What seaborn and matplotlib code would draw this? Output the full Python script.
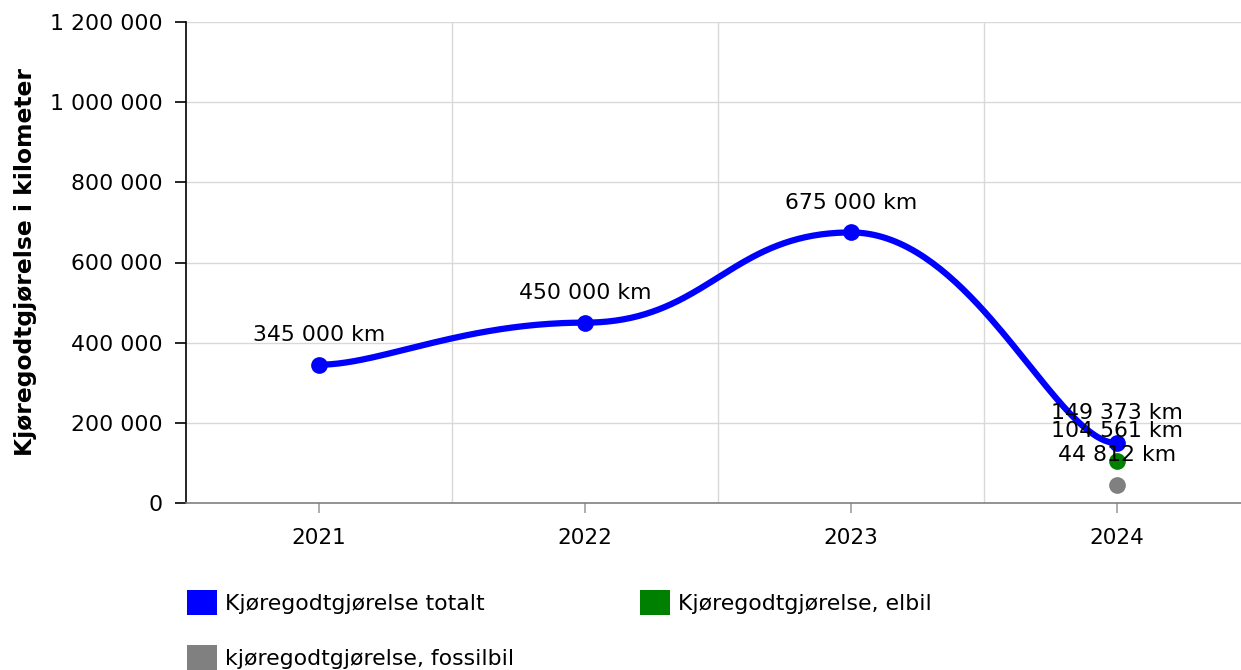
import numpy as np
import pandas as pd
import matplotlib
matplotlib.use("Agg")
import matplotlib.pyplot as plt
import seaborn as sns
from matplotlib.patches import Patch
from matplotlib.ticker import FuncFormatter, FixedLocator

# ---------------- data ----------------
years = ["2021", "2022", "2023", "2024"]
total_km = [345000, 450000, 675000, 149373]
elbil_years = ["2024"]
elbil_km = [104561]
fossil_years = ["2024"]
fossil_km = [44812]
series_names = ["Kjøregodtgjørelse totalt", "Kjøregodtgjørelse, elbil",
                "kjøregodtgjørelse, fossilbil"]
y_ticks = [0, 200000, 400000, 600000, 800000, 1000000, 1200000]
y_label = "Kjøregodtgjørelse i kilometer"

C_TOTAL = "#0000ff"
C_EL = "#008000"
C_FOSSIL = "#808080"


def fmt_num(v):
    return f"{int(round(v)):,}".replace(",", " ")


def tension_curve(xs, ys, tension_x=0.77, tension_y=1.0, n=80):
    """Smoothed line (tension in x only) drawn as cubic Bezier segments."""
    kx = 1 - tension_x + 1e-5
    ky = 1 - tension_y + 1e-5
    pts = np.column_stack([np.asarray(xs, float), np.asarray(ys, float)])
    m = len(pts)
    t = np.linspace(0, 1, n)
    ox, oy = [], []
    for i in range(m - 1):
        p0 = pts[i - 1] if i > 0 else pts[i]
        p1 = pts[i]
        p2 = pts[i + 1]
        p3 = pts[i + 2] if i + 2 < m else pts[i + 1]
        ca = np.array([p1[0] + kx * (p2[0] - p0[0]), p1[1] + ky * (p2[1] - p0[1])])
        cb = np.array([p2[0] - kx * (p3[0] - p1[0]), p2[1] - ky * (p3[1] - p1[1])])
        b = ((1 - t) ** 3)[:, None] * p1 + (3 * (1 - t) ** 2 * t)[:, None] * ca \
            + (3 * (1 - t) * t ** 2)[:, None] * cb + (t ** 3)[:, None] * p2
        if i > 0:
            b = b[1:]
        ox.extend(b[:, 0]); oy.extend(b[:, 1])
    return np.array(ox), np.array(oy)


# ---------------- figure ----------------
sns.set_theme(style="white")
plt.rcParams["font.family"] = ["DejaVu Sans"]
plt.rcParams["text.color"] = "#000000"

W, H = 1241, 670
fig = plt.figure(figsize=(W / 100, H / 100), dpi=100)
ax_left, ax_right = 186, 1250
ax_top, ax_bottom = 22, 503
ax = fig.add_axes([ax_left / W, (H - ax_bottom) / H,
                   (ax_right - ax_left) / W, (ax_bottom - ax_top) / H])

pos = {y: i for i, y in enumerate(years)}
x_total = [pos[y] for y in years]

cx, cy = tension_curve(x_total, total_km)
curve = pd.DataFrame({"x": cx, "y": cy})
sns.lineplot(data=curve, x="x", y="y", sort=False, color=C_TOTAL,
             linewidth=4.5, ax=ax, zorder=3)

df_total = pd.DataFrame({"x": x_total, "y": total_km})
df_el = pd.DataFrame({"x": [pos[y] for y in elbil_years], "y": elbil_km})
df_fo = pd.DataFrame({"x": [pos[y] for y in fossil_years], "y": fossil_km})

sns.scatterplot(data=df_fo, x="x", y="y", color=C_FOSSIL, s=145,
                linewidth=0, ax=ax, zorder=4)
sns.scatterplot(data=df_el, x="x", y="y", color=C_EL, s=145,
                linewidth=0, ax=ax, zorder=4)
sns.scatterplot(data=df_total, x="x", y="y", color=C_TOTAL, s=145,
                linewidth=0, ax=ax, zorder=5)

# data labels
for d in (df_total, df_el, df_fo):
    for xv, yv in zip(d["x"], d["y"]):
        ax.annotate(f"{fmt_num(yv)} km", (xv, yv), xytext=(0, 21.5),
                    textcoords="offset points", ha="center", va="center",
                    fontsize=15.8, color="#000000", zorder=6)

# axes
ax.set_xlim(-0.5, len(years) - 0.5)
ax.set_ylim(y_ticks[0], y_ticks[-1])
ax.xaxis.set_major_locator(FixedLocator(list(range(len(years)))))
ax.set_xticklabels(years)
ax.xaxis.set_minor_locator(FixedLocator([i + 0.5 for i in range(len(years) - 1)]))
ax.yaxis.set_major_locator(FixedLocator(y_ticks))
ax.yaxis.set_major_formatter(FuncFormatter(lambda v, p: fmt_num(v)))

ax.grid(False)
for yv in y_ticks[1:]:
    ax.axhline(yv, color="#d9d9d9", linewidth=1.0, zorder=0)
ax.grid(which="minor", axis="x", color="#d9d9d9", linewidth=1.0, zorder=0)

for s in ("top", "right"):
    ax.spines[s].set_visible(False)
ax.spines["left"].set_color("#000000")
ax.spines["left"].set_linewidth(1.2)
ax.spines["bottom"].set_color("#808080")
ax.spines["bottom"].set_linewidth(1.2)

ax.tick_params(axis="y", which="major", left=True, length=8, width=1.2,
               color="#000000", pad=9, labelsize=15.8, labelcolor="#000000")
ax.tick_params(axis="x", which="major", bottom=True, length=7, width=1.2,
               color="#a0a0a0", pad=11, labelsize=15.5, labelcolor="#000000")
ax.tick_params(axis="x", which="minor", bottom=False, length=0)

ax.set_xlabel("")
ax.set_ylabel(y_label, fontsize=16.8, fontweight="bold", color="#000000")
ax.yaxis.set_label_coords((37 - ax_left) / (ax_right - ax_left), 0.5)

# legend
fs_leg = 15.8
hsize = 30 / (fs_leg * 100 / 72)
h_total = Patch(facecolor=C_TOTAL, edgecolor="none")
h_el = Patch(facecolor=C_EL, edgecolor="none")
h_fo = Patch(facecolor=C_FOSSIL, edgecolor="none")
common = dict(frameon=False, fontsize=fs_leg, handlelength=hsize,
              handleheight=hsize, handletextpad=0.35, borderpad=0,
              borderaxespad=0, labelspacing=1.38, loc="upper left",
              labelcolor="#000000")
fig.legend([h_total, h_fo], [series_names[0], series_names[2]],
           bbox_to_anchor=(187 / W, 1 - 590 / H), **common)
fig.legend([h_el], [series_names[1]],
           bbox_to_anchor=(640 / W, 1 - 590 / H), **common)

fig.savefig("out.png", dpi=100)
